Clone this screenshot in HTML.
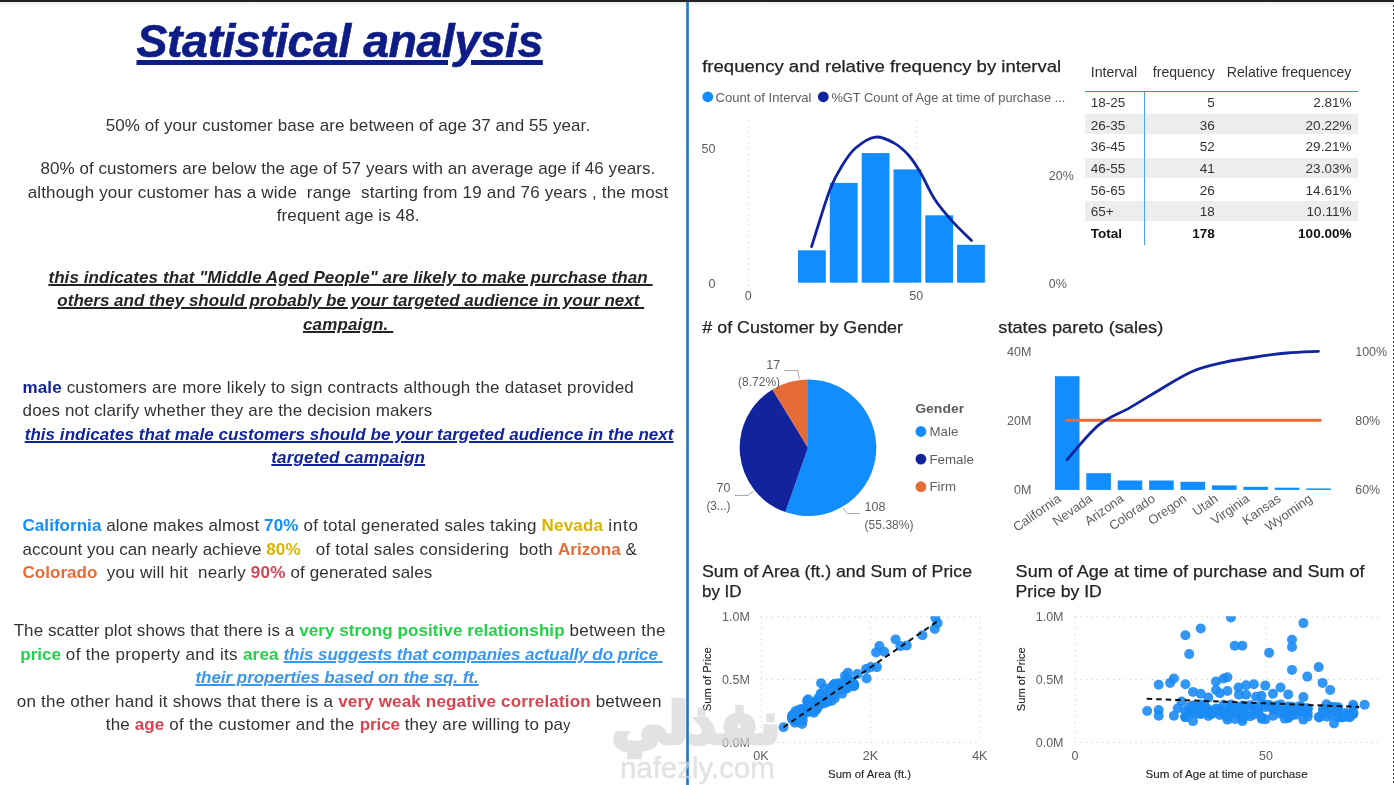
<!DOCTYPE html>
<html lang="en"><head><meta charset="utf-8"><title>Statistical analysis</title>
<style>
html,body{margin:0;padding:0;background:#fff;}
body{width:1394px;height:785px;position:relative;overflow:hidden;font-family:"Liberation Sans",sans-serif;color:#333;}
.topbar{position:absolute;left:0;top:0;width:1394px;height:2px;background:#222;}
.topshade{position:absolute;left:0;top:2px;width:1394px;height:5px;background:linear-gradient(#ededed,#fff);}
.rdots{position:absolute;left:1393px;top:5px;width:1px;height:780px;background:repeating-linear-gradient(#333 0,#333 2px,transparent 2px,transparent 4px);}
.ln{position:absolute;white-space:pre;margin:0;}
.ln span{display:inline;}
.p{color:#333;}
.b{font-weight:bold;}
.bi{font-weight:bold;font-style:italic;}
.u{text-decoration:underline;text-decoration-thickness:1.7px;text-underline-offset:1.3px;}
.ut{text-decoration-thickness:4.6px;text-underline-offset:3.1px;-webkit-text-stroke:0.6px #0e1c86;}
.sm{font-size:14px;}
.dk{color:#252423;}
.navy{color:#12239e;}
.navy2{color:#0e1c86;}
.blue{color:#118dff;}
.lblue{color:#3b96ee;}
.yel{color:#d9b300;}
.org{color:#e66c37;}
.red{color:#d64550;}
.grn{color:#21d24a;}
svg{position:absolute;left:0;top:0;}
svg text{font-family:"Liberation Sans",sans-serif;}
table.ft{position:absolute;left:1085px;top:59px;border-collapse:collapse;border-spacing:0;table-layout:fixed;width:273px;font-size:13.5px;color:#333;}
table.ft td,table.ft th{padding:0;padding-top:0.5px;height:21.15px;line-height:21.15px;font-weight:normal;white-space:nowrap;overflow:visible;}
table.ft th{height:27.6px;line-height:27.6px;padding-top:0;padding-bottom:4.7px;border-bottom:1px solid #2f93ee;color:#333;font-size:14.1px;}
table.ft tr.sp td{height:0.75px;line-height:0.75px;padding-top:0;padding-bottom:0;font-size:0;}
table.ft .c1{text-align:left;padding-left:5.8px;border-right:1px solid #4ba3ee;}
table.ft th.c1{border-right:none;}
table.ft .c2{text-align:right;padding-right:5.3px;}
table.ft .c3{text-align:right;padding-right:6.6px;}
table.ft tr.r1 td{padding-top:0;padding-bottom:2px;line-height:19.15px;height:19.15px;}
table.ft tr.alt td{background:linear-gradient(#ededed 0,#ededed 20.3px,#fff 20.3px);}
table.ft tr.tot td{font-weight:bold;color:#111;padding-top:1px;height:20.65px;}
.wmk{position:absolute;left:0;top:0;width:1394px;height:785px;opacity:0.67;pointer-events:none;}
.wm{position:absolute;white-space:nowrap;color:#d5d5d5;transform-origin:0 0;}
</style></head><body>
<div class="topbar"></div><div class="topshade"></div>
<div class="left">
<div id="t" class="ln bi navy2 u ut" style="left:136.50px;top:11.19px;font-size:46.5px;line-height:60px;"><span id="t_0" style="letter-spacing:-0.492px">Statistical analysis</span></div>
<div id="l1" class="ln p" style="left:105.65px;top:114.41px;font-size:17.0px;line-height:24px;"><span id="l1_0" style="letter-spacing:0.091px">50% of your customer base are between of age 37 and 55 year.</span></div>
<div id="l2" class="ln p" style="left:40.45px;top:157.21px;font-size:17.0px;line-height:24px;"><span id="l2_0" style="letter-spacing:0.055px">80% of customers are below the age of 57 years with an average age if 46 years.</span></div>
<div id="l3" class="ln p" style="left:27.65px;top:180.81px;font-size:17.0px;line-height:24px;"><span id="l3_0" style="letter-spacing:0.174px">although your customer has a wide  range  starting from 19 and 76 years , the most</span></div>
<div id="l4" class="ln p" style="left:276.75px;top:204.21px;font-size:17.0px;line-height:24px;"><span id="l4_0" style="letter-spacing:0.109px">frequent age is 48.</span></div>
<div id="l5" class="ln bi dk u" style="left:48.40px;top:266.21px;font-size:17.0px;line-height:24px;"><span id="l5_0" style="letter-spacing:0.079px">this indicates that "Middle Aged People" are likely to make purchase than </span></div>
<div id="l6" class="ln bi dk u" style="left:57.30px;top:289.21px;font-size:17.0px;line-height:24px;"><span id="l6_0" style="letter-spacing:0.018px">others and they should probably be your targeted audience in your next </span></div>
<div id="l7" class="ln bi dk u" style="left:303.00px;top:312.81px;font-size:17.0px;line-height:24px;"><span id="l7_0" style="letter-spacing:0.149px">campaign. </span></div>
<div id="l8" class="ln p" style="left:22.55px;top:376.21px;font-size:17.0px;line-height:24px;"><span id="l8_0" class="b navy" style="letter-spacing:0.123px">male </span><span id="l8_1" style="letter-spacing:0.226px">customers are more likely to sign contracts although the dataset provided</span></div>
<div id="l9" class="ln p" style="left:22.55px;top:399.21px;font-size:17.0px;line-height:24px;"><span id="l9_0" style="letter-spacing:0.155px">does not clarify whether they are the decision makers</span></div>
<div id="l10" class="ln bi navy u" style="left:24.70px;top:422.81px;font-size:17.0px;line-height:24px;"><span id="l10_0" style="letter-spacing:0.046px">this indicates that male customers should be your targeted audience in the next</span></div>
<div id="l11" class="ln bi navy u" style="left:271.30px;top:446.01px;font-size:17.0px;line-height:24px;"><span id="l11_0" style="letter-spacing:0.156px">targeted campaign</span></div>
<div id="l12" class="ln p" style="left:22.55px;top:513.71px;font-size:17.0px;line-height:24px;"><span id="l12_0" class="b blue" style="letter-spacing:0.043px">California </span><span id="l12_1" style="letter-spacing:0.105px">alone makes almost </span><span id="l12_2" class="b blue" style="letter-spacing:0.188px">70% </span><span id="l12_3" style="letter-spacing:0.199px">of total generated sales taking </span><span id="l12_4" class="b yel" style="letter-spacing:0.214px">Nevada </span><span id="l12_5" style="letter-spacing:0.770px">into</span></div>
<div id="l13" class="ln p" style="left:22.55px;top:537.81px;font-size:17.0px;line-height:24px;"><span id="l13_0" style="letter-spacing:0.023px">account you can nearly achieve </span><span id="l13_1" class="b yel" style="letter-spacing:0.233px">80%   </span><span id="l13_2" style="letter-spacing:0.240px">of total sales considering  both </span><span id="l13_3" class="b org" style="letter-spacing:0.055px">Arizona </span><span id="l13_4" style="letter-spacing:3.056px">&amp;</span></div>
<div id="l14" class="ln p" style="left:22.55px;top:560.91px;font-size:17.0px;line-height:24px;"><span id="l14_0" class="b org" style="letter-spacing:0.024px">Colorado  </span><span id="l14_1" style="letter-spacing:0.243px">you will hit  nearly </span><span id="l14_2" class="b red" style="letter-spacing:0.237px">90% </span><span id="l14_3" style="letter-spacing:0.106px">of generated sales</span></div>
<div id="l15" class="ln p" style="left:13.65px;top:618.81px;font-size:17.0px;line-height:24px;"><span id="l15_0" style="letter-spacing:0.076px">The scatter plot shows that there is a </span><span id="l15_1" class="b grn" style="letter-spacing:0.087px">very strong positive relationship </span><span id="l15_2" style="letter-spacing:0.342px">between the</span></div>
<div id="l16" class="ln p" style="left:20.25px;top:643.01px;font-size:17.0px;line-height:24px;"><span id="l16_0" class="b grn" style="letter-spacing:0.040px">price </span><span id="l16_1" style="letter-spacing:0.331px">of the property and its </span><span id="l16_2" class="b grn" style="letter-spacing:0.169px">area </span><span id="l16_3" class="bi lblue u" style="letter-spacing:-0.077px">this suggests that companies actually do price </span></div>
<div id="l17" class="ln bi lblue u" style="left:195.40px;top:666.21px;font-size:17.0px;line-height:24px;"><span id="l17_0" style="letter-spacing:-0.030px">their properties based on the sq. ft.</span></div>
<div id="l18" class="ln p" style="left:16.75px;top:689.81px;font-size:17.0px;line-height:24px;"><span id="l18_0" style="letter-spacing:0.222px">on the other hand it shows that there is a </span><span id="l18_1" class="b red" style="letter-spacing:0.168px">very weak negative correlation </span><span id="l18_2" style="letter-spacing:0.246px">between</span></div>
<div id="l19" class="ln p" style="left:105.85px;top:713.01px;font-size:17.0px;line-height:24px;"><span id="l19_0" style="letter-spacing:0.135px">the </span><span id="l19_1" class="b red" style="letter-spacing:0.092px">age </span><span id="l19_2" style="letter-spacing:0.298px">of the customer and the </span><span id="l19_3" class="b red" style="letter-spacing:-0.060px">price </span><span id="l19_4" style="letter-spacing:0.160px">they are willing to pa</span><span id="l19_5" class="sm" style="letter-spacing:3.700px">y</span></div>
</div>
<svg width="1394" height="785" viewBox="0 0 1394 785">
<defs><clipPath id="cp"><rect x="750" y="616.3" width="644" height="140"/></clipPath></defs>
<rect x="686.25" y="1.5" width="2.55" height="784" fill="#1f72c4"/>
<g id="hist">
<text x="702.2" y="71.5" font-size="17" fill="#252423" textLength="359.0" lengthAdjust="spacingAndGlyphs" stroke="#252423" stroke-width="0.25">frequency and relative frequency by interval</text>
<circle cx="707.8" cy="96.8" r="5.4" fill="#118dff"/>
<text x="715.5" y="101.6" font-size="13.3" fill="#605e5c" textLength="96.0" lengthAdjust="spacingAndGlyphs">Count of Interval</text>
<circle cx="823.3" cy="96.8" r="5.4" fill="#12239e"/>
<text x="831.4" y="101.6" font-size="13.3" fill="#605e5c" textLength="234.0" lengthAdjust="spacingAndGlyphs">%GT Count of Age at time of purchase ...</text>
<line x1="748.8" y1="120.5" x2="748.8" y2="287" stroke="#c8c6c4" stroke-width="1" stroke-dasharray="1 4.5"/>
<line x1="916.7" y1="120.5" x2="916.7" y2="287" stroke="#c8c6c4" stroke-width="1" stroke-dasharray="1 4.5"/>
<rect x="798.0" y="250.3" width="27.8" height="32.4" fill="#118dff"/>
<rect x="829.8" y="182.9" width="27.8" height="99.8" fill="#118dff"/>
<rect x="861.7" y="153.1" width="27.8" height="129.6" fill="#118dff"/>
<rect x="893.5" y="169.4" width="27.8" height="113.3" fill="#118dff"/>
<rect x="925.3" y="215.3" width="27.8" height="67.4" fill="#118dff"/>
<rect x="957.1" y="244.8" width="27.8" height="37.9" fill="#118dff"/>
<path d="M811.6 246.6 C814.6 237.2 824.6 203.7 829.8 190.0 C835.0 176.3 838.5 171.6 842.8 164.6 C847.1 157.6 850.2 152.6 855.6 148.0 C861.0 143.4 869.0 137.9 875.4 137.1 C881.8 136.2 888.2 139.8 893.8 142.9 C899.4 146.0 904.5 150.6 909.0 155.7 C913.5 160.8 916.8 166.3 921.0 173.5 C925.2 180.7 929.2 190.9 934.5 199.0 C939.8 207.1 946.7 215.0 952.9 221.9 C959.1 228.8 968.4 237.4 971.5 240.5" fill="none" stroke="#12239e" stroke-width="2.8" stroke-linecap="round" stroke-linejoin="round"/>
<text x="715.5" y="153.1" font-size="12.5" fill="#605e5c" text-anchor="end">50</text>
<text x="715.5" y="288.1" font-size="12.5" fill="#605e5c" text-anchor="end">0</text>
<text x="748.3" y="300.1" font-size="12.5" fill="#605e5c" text-anchor="middle">0</text>
<text x="916.2" y="300.1" font-size="12.5" fill="#605e5c" text-anchor="middle">50</text>
<text x="1048.8" y="180.2" font-size="12.5" fill="#605e5c">20%</text>
<text x="1048.8" y="288.1" font-size="12.5" fill="#605e5c">0%</text>
</g>
<g id="pie">
<text x="702.3" y="332.8" font-size="17" fill="#252423" textLength="200.7" lengthAdjust="spacingAndGlyphs" stroke="#252423" stroke-width="0.25"># of Customer by Gender</text>
<path d="M808.00 447.70 L808.00 379.40 A68.30 68.30 0 1 1 785.31 512.12 Z" fill="#118dff"/>
<path d="M808.00 447.70 L785.31 512.12 A68.30 68.30 0 0 1 772.42 389.40 Z" fill="#12239e"/>
<path d="M808.00 447.70 L772.42 389.40 A68.30 68.30 0 0 1 808.00 379.40 Z" fill="#e66c37"/>
<polyline points="784.4,370.6 797.7,370.6 799.3,378.8" fill="none" stroke="#a6a6a6" stroke-width="1"/>
<polyline points="734.7,495.4 748,495.4 752.9,491.5" fill="none" stroke="#a6a6a6" stroke-width="1"/>
<polyline points="843,508 847.3,513.6 859.9,513.6" fill="none" stroke="#a6a6a6" stroke-width="1"/>
<text x="780.1" y="368.9" font-size="12.5" fill="#605e5c" text-anchor="end">17</text>
<text x="780.1" y="385.5" font-size="12.5" fill="#605e5c" text-anchor="end" textLength="42.0" lengthAdjust="spacingAndGlyphs">(8.72%)</text>
<text x="730.4" y="492.4" font-size="12.5" fill="#605e5c" text-anchor="end">70</text>
<text x="730.4" y="509.7" font-size="12.5" fill="#605e5c" text-anchor="end" textLength="24.0" lengthAdjust="spacingAndGlyphs">(3...)</text>
<text x="864.6" y="511.0" font-size="12.5" fill="#605e5c">108</text>
<text x="864.6" y="528.5" font-size="12.5" fill="#605e5c" textLength="49.0" lengthAdjust="spacingAndGlyphs">(55.38%)</text>
<text x="915.2" y="412.6" font-size="13.3" fill="#605e5c" textLength="49.0" lengthAdjust="spacingAndGlyphs" font-weight="bold">Gender</text>
<circle cx="920.9" cy="431.5" r="5.4" fill="#118dff"/>
<text x="929.5" y="436.1" font-size="13.3" fill="#605e5c">Male</text>
<circle cx="920.9" cy="459.1" r="5.4" fill="#12239e"/>
<text x="929.5" y="463.7" font-size="13.3" fill="#605e5c">Female</text>
<circle cx="920.9" cy="486.7" r="5.4" fill="#e66c37"/>
<text x="929.5" y="491.3" font-size="13.3" fill="#605e5c">Firm</text>
</g>
<g id="pareto">
<text x="998.3" y="332.8" font-size="17" fill="#252423" textLength="165.0" lengthAdjust="spacingAndGlyphs" stroke="#252423" stroke-width="0.25">states pareto (sales)</text>
<text x="1031.4" y="356.3" font-size="12.5" fill="#605e5c" text-anchor="end">40M</text>
<text x="1031.4" y="425.2" font-size="12.5" fill="#605e5c" text-anchor="end">20M</text>
<text x="1031.4" y="494.0" font-size="12.5" fill="#605e5c" text-anchor="end">0M</text>
<text x="1355.2" y="356.3" font-size="12.5" fill="#605e5c">100%</text>
<text x="1355.2" y="425.2" font-size="12.5" fill="#605e5c">80%</text>
<text x="1355.2" y="494.0" font-size="12.5" fill="#605e5c">60%</text>
<rect x="1054.9" y="376.2" width="24.6" height="113.7" fill="#118dff"/>
<text x="0" y="0" font-size="13" fill="#605e5c" text-anchor="end" transform="translate(1061.9 500.6) rotate(-35)">California</text>
<rect x="1086.3" y="473.2" width="24.6" height="16.7" fill="#118dff"/>
<text x="0" y="0" font-size="13" fill="#605e5c" text-anchor="end" transform="translate(1093.3 500.6) rotate(-35)">Nevada</text>
<rect x="1117.7" y="480.5" width="24.6" height="9.4" fill="#118dff"/>
<text x="0" y="0" font-size="13" fill="#605e5c" text-anchor="end" transform="translate(1124.7 500.6) rotate(-35)">Arizona</text>
<rect x="1149.1" y="480.5" width="24.6" height="9.4" fill="#118dff"/>
<text x="0" y="0" font-size="13" fill="#605e5c" text-anchor="end" transform="translate(1156.1 500.6) rotate(-35)">Colorado</text>
<rect x="1180.5" y="481.8" width="24.6" height="8.1" fill="#118dff"/>
<text x="0" y="0" font-size="13" fill="#605e5c" text-anchor="end" transform="translate(1187.5 500.6) rotate(-35)">Oregon</text>
<rect x="1212.0" y="485.4" width="24.6" height="4.5" fill="#118dff"/>
<text x="0" y="0" font-size="13" fill="#605e5c" text-anchor="end" transform="translate(1219.0 500.6) rotate(-35)">Utah</text>
<rect x="1243.4" y="486.8" width="24.6" height="3.1" fill="#118dff"/>
<text x="0" y="0" font-size="13" fill="#605e5c" text-anchor="end" transform="translate(1250.4 500.6) rotate(-35)">Virginia</text>
<rect x="1274.8" y="487.7" width="24.6" height="2.2" fill="#118dff"/>
<text x="0" y="0" font-size="13" fill="#605e5c" text-anchor="end" transform="translate(1281.8 500.6) rotate(-35)">Kansas</text>
<rect x="1306.2" y="488.4" width="24.6" height="1.5" fill="#118dff"/>
<text x="0" y="0" font-size="13" fill="#605e5c" text-anchor="end" transform="translate(1313.2 500.6) rotate(-35)">Wyoming</text>
<line x1="1066.2" y1="420.3" x2="1320.1" y2="420.3" stroke="#e66c37" stroke-width="3" stroke-linecap="round"/>
<path d="M1067.2 459.6 C1072.4 453.9 1088.1 433.9 1098.6 425.2 C1109.1 416.5 1119.5 413.7 1130.0 407.6 C1140.5 401.5 1151.0 394.8 1161.4 388.7 C1171.9 382.6 1182.4 375.6 1192.8 371.2 C1203.3 366.8 1213.8 364.7 1224.2 362.3 C1234.7 359.9 1245.2 358.6 1255.7 357.0 C1266.1 355.4 1276.6 353.9 1287.1 353.0 C1297.5 352.1 1313.2 351.6 1318.5 351.3" fill="none" stroke="#12239e" stroke-width="2.8" stroke-linecap="round" stroke-linejoin="round"/>
</g>
<g id="sc1">
<text x="702.0" y="576.7" font-size="17" fill="#252423" textLength="270.0" lengthAdjust="spacingAndGlyphs" stroke="#252423" stroke-width="0.25">Sum of Area (ft.) and Sum of Price</text>
<text x="702.0" y="597.0" font-size="17" fill="#252423" textLength="39.5" lengthAdjust="spacingAndGlyphs" stroke="#252423" stroke-width="0.25">by ID</text>
<line x1="761" y1="616.8" x2="980" y2="616.8" stroke="#c8c6c4" stroke-width="1" stroke-dasharray="1 4.5"/>
<line x1="761" y1="679.6" x2="980" y2="679.6" stroke="#c8c6c4" stroke-width="1" stroke-dasharray="1 4.5"/>
<line x1="761" y1="742.4" x2="980" y2="742.4" stroke="#c8c6c4" stroke-width="1" stroke-dasharray="1 4.5"/>
<line x1="761.5" y1="616.8" x2="761.5" y2="742.4" stroke="#c8c6c4" stroke-width="1" stroke-dasharray="1 4.5"/>
<line x1="870.5" y1="616.8" x2="870.5" y2="742.4" stroke="#c8c6c4" stroke-width="1" stroke-dasharray="1 4.5"/>
<line x1="979.8" y1="616.8" x2="979.8" y2="742.4" stroke="#c8c6c4" stroke-width="1" stroke-dasharray="1 4.5"/>
<text x="749.9" y="620.8" font-size="12.5" fill="#605e5c" text-anchor="end">1.0M</text>
<text x="749.9" y="683.9" font-size="12.5" fill="#605e5c" text-anchor="end">0.5M</text>
<text x="749.9" y="747.3" font-size="12.5" fill="#605e5c" text-anchor="end">0.0M</text>
<text x="761.0" y="760.3" font-size="12.5" fill="#605e5c" text-anchor="middle">0K</text>
<text x="870.5" y="760.3" font-size="12.5" fill="#605e5c" text-anchor="middle">2K</text>
<text x="979.8" y="760.3" font-size="12.5" fill="#605e5c" text-anchor="middle">4K</text>
<text x="869.6" y="778.0" font-size="11.5" fill="#252423" text-anchor="middle" textLength="83.0" lengthAdjust="spacingAndGlyphs" stroke="#252423" stroke-width="0.12">Sum of Area (ft.)</text>
<text x="0" y="0" font-size="11.5" fill="#252423" stroke="#252423" stroke-width="0.12" text-anchor="middle" textLength="64" lengthAdjust="spacingAndGlyphs" transform="translate(711.3 679.3) rotate(-90)">Sum of Price</text>
<g fill="#1b8bf5" fill-opacity="0.9" clip-path="url(#cp)">
<circle cx="809.9" cy="711.4" r="5"/>
<circle cx="797.1" cy="721.3" r="5"/>
<circle cx="820.9" cy="699.9" r="5"/>
<circle cx="820.0" cy="702.4" r="5"/>
<circle cx="792.7" cy="718.1" r="5"/>
<circle cx="796.1" cy="717.9" r="5"/>
<circle cx="814.8" cy="705.7" r="5"/>
<circle cx="801.9" cy="711.6" r="5"/>
<circle cx="829.4" cy="700.0" r="5"/>
<circle cx="812.0" cy="705.0" r="5"/>
<circle cx="853.8" cy="686.3" r="5"/>
<circle cx="807.5" cy="711.9" r="5"/>
<circle cx="799.6" cy="717.4" r="5"/>
<circle cx="840.5" cy="689.9" r="5"/>
<circle cx="798.1" cy="711.0" r="5"/>
<circle cx="810.0" cy="705.2" r="5"/>
<circle cx="822.6" cy="700.9" r="5"/>
<circle cx="802.0" cy="713.9" r="5"/>
<circle cx="829.1" cy="692.2" r="5"/>
<circle cx="825.1" cy="699.4" r="5"/>
<circle cx="815.2" cy="702.4" r="5"/>
<circle cx="834.8" cy="698.1" r="5"/>
<circle cx="801.9" cy="709.1" r="5"/>
<circle cx="842.5" cy="684.2" r="5"/>
<circle cx="832.5" cy="690.4" r="5"/>
<circle cx="802.1" cy="724.0" r="5"/>
<circle cx="814.1" cy="705.4" r="5"/>
<circle cx="817.3" cy="700.9" r="5"/>
<circle cx="791.9" cy="716.7" r="5"/>
<circle cx="820.9" cy="694.9" r="5"/>
<circle cx="842.4" cy="684.0" r="5"/>
<circle cx="827.6" cy="701.9" r="5"/>
<circle cx="820.7" cy="693.6" r="5"/>
<circle cx="849.1" cy="684.0" r="5"/>
<circle cx="817.1" cy="702.5" r="5"/>
<circle cx="831.4" cy="692.6" r="5"/>
<circle cx="831.7" cy="700.8" r="5"/>
<circle cx="806.0" cy="710.4" r="5"/>
<circle cx="811.9" cy="706.3" r="5"/>
<circle cx="816.3" cy="703.0" r="5"/>
<circle cx="800.2" cy="715.6" r="5"/>
<circle cx="836.7" cy="691.1" r="5"/>
<circle cx="797.7" cy="716.2" r="5"/>
<circle cx="845.0" cy="688.6" r="5"/>
<circle cx="793.1" cy="714.5" r="5"/>
<circle cx="844.7" cy="686.4" r="5"/>
<circle cx="840.7" cy="689.6" r="5"/>
<circle cx="812.7" cy="703.8" r="5"/>
<circle cx="813.9" cy="712.8" r="5"/>
<circle cx="795.8" cy="710.9" r="5"/>
<circle cx="800.3" cy="714.8" r="5"/>
<circle cx="819.4" cy="704.6" r="5"/>
<circle cx="824.6" cy="698.2" r="5"/>
<circle cx="814.2" cy="705.5" r="5"/>
<circle cx="807.0" cy="701.1" r="5"/>
<circle cx="829.4" cy="691.1" r="5"/>
<circle cx="818.0" cy="698.3" r="5"/>
<circle cx="792.3" cy="715.8" r="5"/>
<circle cx="845.8" cy="685.6" r="5"/>
<circle cx="834.6" cy="683.7" r="5"/>
<circle cx="811.8" cy="705.3" r="5"/>
<circle cx="828.0" cy="697.1" r="5"/>
<circle cx="795.6" cy="720.1" r="5"/>
<circle cx="799.9" cy="715.8" r="5"/>
<circle cx="809.4" cy="708.5" r="5"/>
<circle cx="798.8" cy="715.5" r="5"/>
<circle cx="796.0" cy="716.7" r="5"/>
<circle cx="843.7" cy="686.2" r="5"/>
<circle cx="827.1" cy="698.4" r="5"/>
<circle cx="810.9" cy="709.8" r="5"/>
<circle cx="813.3" cy="711.3" r="5"/>
<circle cx="854.0" cy="684.0" r="5"/>
<circle cx="816.2" cy="702.2" r="5"/>
<circle cx="796.4" cy="717.2" r="5"/>
<circle cx="809.2" cy="707.9" r="5"/>
<circle cx="802.8" cy="720.2" r="5"/>
<circle cx="794.9" cy="722.7" r="5"/>
<circle cx="797.9" cy="714.6" r="5"/>
<circle cx="823.9" cy="703.5" r="5"/>
<circle cx="850.9" cy="681.6" r="5"/>
<circle cx="842.2" cy="685.5" r="5"/>
<circle cx="809.6" cy="705.4" r="5"/>
<circle cx="800.0" cy="715.4" r="5"/>
<circle cx="834.8" cy="686.6" r="5"/>
<circle cx="809.3" cy="709.7" r="5"/>
<circle cx="854.2" cy="685.6" r="5"/>
<circle cx="843.1" cy="688.4" r="5"/>
<circle cx="831.3" cy="687.0" r="5"/>
<circle cx="801.2" cy="710.2" r="5"/>
<circle cx="792.8" cy="719.0" r="5"/>
<circle cx="792.7" cy="719.0" r="5"/>
<circle cx="832.7" cy="695.9" r="5"/>
<circle cx="845.0" cy="675.9" r="5"/>
<circle cx="852.6" cy="682.6" r="5"/>
<circle cx="848.1" cy="680.8" r="5"/>
<circle cx="803.9" cy="714.2" r="5"/>
<circle cx="802.0" cy="714.9" r="5"/>
<circle cx="847.6" cy="688.2" r="5"/>
<circle cx="838.5" cy="683.3" r="5"/>
<circle cx="838.7" cy="689.6" r="5"/>
<circle cx="793.4" cy="714.5" r="5"/>
<circle cx="833.9" cy="684.8" r="5"/>
<circle cx="834.0" cy="689.6" r="5"/>
<circle cx="837.9" cy="689.8" r="5"/>
<circle cx="810.4" cy="711.0" r="5"/>
<circle cx="808.1" cy="699.3" r="5"/>
<circle cx="815.8" cy="710.2" r="5"/>
<circle cx="798.9" cy="713.3" r="5"/>
<circle cx="799.9" cy="719.7" r="5"/>
<circle cx="842.1" cy="693.6" r="5"/>
<circle cx="800.9" cy="719.2" r="5"/>
<circle cx="824.5" cy="688.5" r="5"/>
<circle cx="809.0" cy="706.6" r="5"/>
<circle cx="792.2" cy="719.3" r="5"/>
<circle cx="848.7" cy="679.4" r="5"/>
<circle cx="845.7" cy="680.3" r="5"/>
<circle cx="817.3" cy="708.2" r="5"/>
<circle cx="799.6" cy="709.6" r="5"/>
<circle cx="803.9" cy="711.3" r="5"/>
<circle cx="825.8" cy="700.3" r="5"/>
<circle cx="803.9" cy="710.3" r="5"/>
<circle cx="846.3" cy="684.8" r="5"/>
<circle cx="807.8" cy="704.4" r="5"/>
<circle cx="846.1" cy="685.3" r="5"/>
<circle cx="816.0" cy="708.0" r="5"/>
<circle cx="783.5" cy="727.3" r="5"/>
<circle cx="821.1" cy="683.3" r="5"/>
<circle cx="847.9" cy="672.8" r="5"/>
<circle cx="857.4" cy="674.1" r="5"/>
<circle cx="866.6" cy="678.5" r="5"/>
<circle cx="866.0" cy="669.0" r="5"/>
<circle cx="870.8" cy="667.1" r="5"/>
<circle cx="876.9" cy="667.1" r="5"/>
<circle cx="876.1" cy="652.4" r="5"/>
<circle cx="879.4" cy="646.1" r="5"/>
<circle cx="884.2" cy="651.8" r="5"/>
<circle cx="895.6" cy="639.4" r="5"/>
<circle cx="900.4" cy="646.1" r="5"/>
<circle cx="906.7" cy="645.5" r="5"/>
<circle cx="922.4" cy="635.2" r="5"/>
<circle cx="934.8" cy="628.9" r="5"/>
<circle cx="937.6" cy="623.1" r="5"/>
<circle cx="935.4" cy="618.0" r="5"/>
</g>
<line x1="783.5" y1="727.3" x2="937.6" y2="621.2" stroke="#111" stroke-width="2" stroke-dasharray="5.5 4"/>
</g>
<g id="sc2">
<text x="1015.6" y="576.7" font-size="17" fill="#252423" textLength="349.0" lengthAdjust="spacingAndGlyphs" stroke="#252423" stroke-width="0.25">Sum of Age at time of purchase and Sum of</text>
<text x="1015.6" y="597.0" font-size="17" fill="#252423" textLength="86.2" lengthAdjust="spacingAndGlyphs" stroke="#252423" stroke-width="0.25">Price by ID</text>
<line x1="1075" y1="616.8" x2="1380.5" y2="616.8" stroke="#c8c6c4" stroke-width="1" stroke-dasharray="1 4.5"/>
<line x1="1075" y1="679.6" x2="1380.5" y2="679.6" stroke="#c8c6c4" stroke-width="1" stroke-dasharray="1 4.5"/>
<line x1="1075" y1="742.4" x2="1380.5" y2="742.4" stroke="#c8c6c4" stroke-width="1" stroke-dasharray="1 4.5"/>
<line x1="1075.2" y1="616.8" x2="1075.2" y2="742.4" stroke="#c8c6c4" stroke-width="1" stroke-dasharray="1 4.5"/>
<line x1="1266.0" y1="616.8" x2="1266.0" y2="742.4" stroke="#c8c6c4" stroke-width="1" stroke-dasharray="1 4.5"/>
<text x="1063.5" y="620.8" font-size="12.5" fill="#605e5c" text-anchor="end">1.0M</text>
<text x="1063.5" y="683.9" font-size="12.5" fill="#605e5c" text-anchor="end">0.5M</text>
<text x="1063.5" y="747.3" font-size="12.5" fill="#605e5c" text-anchor="end">0.0M</text>
<text x="1074.9" y="760.3" font-size="12.5" fill="#605e5c" text-anchor="middle">0</text>
<text x="1265.9" y="760.3" font-size="12.5" fill="#605e5c" text-anchor="middle">50</text>
<text x="1226.6" y="778.0" font-size="11.5" fill="#252423" text-anchor="middle" textLength="162.0" lengthAdjust="spacingAndGlyphs" stroke="#252423" stroke-width="0.12">Sum of Age at time of purchase</text>
<text x="0" y="0" font-size="11.5" fill="#252423" stroke="#252423" stroke-width="0.12" text-anchor="middle" textLength="64" lengthAdjust="spacingAndGlyphs" transform="translate(1024.8 679.3) rotate(-90)">Sum of Price</text>
<g fill="#1b8bf5" fill-opacity="0.9" clip-path="url(#cp)">
<circle cx="1230.9" cy="617.4" r="5"/>
<circle cx="1303.4" cy="623.1" r="5"/>
<circle cx="1200.7" cy="628.5" r="5"/>
<circle cx="1185.4" cy="635.2" r="5"/>
<circle cx="1292.0" cy="639.8" r="5"/>
<circle cx="1292.0" cy="647.0" r="5"/>
<circle cx="1234.7" cy="645.7" r="5"/>
<circle cx="1242.3" cy="645.7" r="5"/>
<circle cx="1189.2" cy="654.1" r="5"/>
<circle cx="1269.1" cy="652.8" r="5"/>
<circle cx="1318.7" cy="667.1" r="5"/>
<circle cx="1292.0" cy="669.9" r="5"/>
<circle cx="1307.3" cy="676.6" r="5"/>
<circle cx="1322.6" cy="682.9" r="5"/>
<circle cx="1330.2" cy="690.0" r="5"/>
<circle cx="1173.9" cy="678.5" r="5"/>
<circle cx="1170.1" cy="682.9" r="5"/>
<circle cx="1158.7" cy="684.8" r="5"/>
<circle cx="1185.4" cy="684.3" r="5"/>
<circle cx="1193.0" cy="691.9" r="5"/>
<circle cx="1200.7" cy="693.8" r="5"/>
<circle cx="1216.0" cy="681.4" r="5"/>
<circle cx="1223.6" cy="678.5" r="5"/>
<circle cx="1227.4" cy="677.2" r="5"/>
<circle cx="1216.0" cy="690.0" r="5"/>
<circle cx="1227.4" cy="691.0" r="5"/>
<circle cx="1238.5" cy="687.5" r="5"/>
<circle cx="1246.1" cy="685.2" r="5"/>
<circle cx="1253.8" cy="684.3" r="5"/>
<circle cx="1265.2" cy="685.6" r="5"/>
<circle cx="1280.5" cy="687.5" r="5"/>
<circle cx="1272.9" cy="693.8" r="5"/>
<circle cx="1288.2" cy="694.4" r="5"/>
<circle cx="1303.4" cy="697.1" r="5"/>
<circle cx="1246.1" cy="694.8" r="5"/>
<circle cx="1261.4" cy="695.7" r="5"/>
<circle cx="1208.3" cy="697.6" r="5"/>
<circle cx="1181.6" cy="701.5" r="5"/>
<circle cx="1219.8" cy="693.3" r="5"/>
<circle cx="1238.9" cy="694.8" r="5"/>
<circle cx="1256.1" cy="696.7" r="5"/>
<circle cx="1147.2" cy="711.0" r="5"/>
<circle cx="1158.7" cy="710.1" r="5"/>
<circle cx="1158.7" cy="715.8" r="5"/>
<circle cx="1173.9" cy="715.8" r="5"/>
<circle cx="1177.8" cy="708.2" r="5"/>
<circle cx="1364.6" cy="704.7" r="5"/>
<circle cx="1353.1" cy="704.7" r="5"/>
<circle cx="1353.1" cy="714.3" r="5"/>
<circle cx="1334.0" cy="723.4" r="5"/>
<circle cx="1326.4" cy="704.3" r="5"/>
<circle cx="1303.4" cy="719.6" r="5"/>
<circle cx="1242.3" cy="721.1" r="5"/>
<circle cx="1193.0" cy="721.1" r="5"/>
<circle cx="1227.4" cy="719.6" r="5"/>
<circle cx="1345.5" cy="715.8" r="5"/>
<circle cx="1337.8" cy="709.1" r="5"/>
<circle cx="1185.4" cy="717.2" r="5"/>
<circle cx="1185.4" cy="717.1" r="5"/>
<circle cx="1185.4" cy="716.0" r="5"/>
<circle cx="1185.4" cy="711.1" r="5"/>
<circle cx="1189.2" cy="707.1" r="5"/>
<circle cx="1189.2" cy="712.0" r="5"/>
<circle cx="1189.2" cy="713.7" r="5"/>
<circle cx="1193.0" cy="705.7" r="5"/>
<circle cx="1193.0" cy="708.9" r="5"/>
<circle cx="1193.0" cy="705.7" r="5"/>
<circle cx="1196.9" cy="713.2" r="5"/>
<circle cx="1196.9" cy="710.2" r="5"/>
<circle cx="1200.7" cy="714.1" r="5"/>
<circle cx="1200.7" cy="713.5" r="5"/>
<circle cx="1200.7" cy="706.7" r="5"/>
<circle cx="1200.7" cy="704.6" r="5"/>
<circle cx="1204.5" cy="705.2" r="5"/>
<circle cx="1204.5" cy="707.2" r="5"/>
<circle cx="1208.3" cy="713.3" r="5"/>
<circle cx="1208.3" cy="715.9" r="5"/>
<circle cx="1208.3" cy="709.2" r="5"/>
<circle cx="1212.1" cy="712.1" r="5"/>
<circle cx="1212.1" cy="713.9" r="5"/>
<circle cx="1212.1" cy="711.8" r="5"/>
<circle cx="1216.0" cy="711.1" r="5"/>
<circle cx="1216.0" cy="708.5" r="5"/>
<circle cx="1219.8" cy="714.9" r="5"/>
<circle cx="1219.8" cy="709.0" r="5"/>
<circle cx="1223.6" cy="712.0" r="5"/>
<circle cx="1223.6" cy="704.8" r="5"/>
<circle cx="1223.6" cy="712.7" r="5"/>
<circle cx="1227.4" cy="710.3" r="5"/>
<circle cx="1227.4" cy="716.9" r="5"/>
<circle cx="1231.2" cy="705.3" r="5"/>
<circle cx="1231.2" cy="704.6" r="5"/>
<circle cx="1231.2" cy="714.5" r="5"/>
<circle cx="1231.2" cy="707.5" r="5"/>
<circle cx="1235.1" cy="711.3" r="5"/>
<circle cx="1235.1" cy="718.9" r="5"/>
<circle cx="1238.9" cy="710.6" r="5"/>
<circle cx="1238.9" cy="712.8" r="5"/>
<circle cx="1238.9" cy="707.3" r="5"/>
<circle cx="1238.9" cy="714.4" r="5"/>
<circle cx="1242.7" cy="705.6" r="5"/>
<circle cx="1242.7" cy="709.3" r="5"/>
<circle cx="1242.7" cy="718.7" r="5"/>
<circle cx="1246.5" cy="706.3" r="5"/>
<circle cx="1246.5" cy="714.9" r="5"/>
<circle cx="1250.3" cy="705.2" r="5"/>
<circle cx="1250.3" cy="716.2" r="5"/>
<circle cx="1254.2" cy="714.5" r="5"/>
<circle cx="1254.2" cy="707.1" r="5"/>
<circle cx="1254.2" cy="711.9" r="5"/>
<circle cx="1258.0" cy="710.6" r="5"/>
<circle cx="1258.0" cy="710.0" r="5"/>
<circle cx="1258.0" cy="710.2" r="5"/>
<circle cx="1261.8" cy="704.3" r="5"/>
<circle cx="1261.8" cy="717.2" r="5"/>
<circle cx="1261.8" cy="718.9" r="5"/>
<circle cx="1265.6" cy="719.2" r="5"/>
<circle cx="1265.6" cy="704.6" r="5"/>
<circle cx="1265.6" cy="707.1" r="5"/>
<circle cx="1269.4" cy="705.0" r="5"/>
<circle cx="1269.4" cy="706.5" r="5"/>
<circle cx="1273.3" cy="708.2" r="5"/>
<circle cx="1273.3" cy="715.8" r="5"/>
<circle cx="1273.3" cy="709.2" r="5"/>
<circle cx="1273.3" cy="708.7" r="5"/>
<circle cx="1277.1" cy="705.4" r="5"/>
<circle cx="1277.1" cy="707.4" r="5"/>
<circle cx="1280.9" cy="704.6" r="5"/>
<circle cx="1280.9" cy="709.8" r="5"/>
<circle cx="1280.9" cy="713.6" r="5"/>
<circle cx="1284.7" cy="718.6" r="5"/>
<circle cx="1284.7" cy="711.5" r="5"/>
<circle cx="1284.7" cy="712.9" r="5"/>
<circle cx="1288.5" cy="707.1" r="5"/>
<circle cx="1288.5" cy="706.6" r="5"/>
<circle cx="1288.5" cy="717.9" r="5"/>
<circle cx="1288.5" cy="716.5" r="5"/>
<circle cx="1292.4" cy="715.1" r="5"/>
<circle cx="1292.4" cy="706.7" r="5"/>
<circle cx="1292.4" cy="713.7" r="5"/>
<circle cx="1296.2" cy="714.6" r="5"/>
<circle cx="1296.2" cy="710.1" r="5"/>
<circle cx="1296.2" cy="711.5" r="5"/>
<circle cx="1300.0" cy="710.6" r="5"/>
<circle cx="1300.0" cy="705.9" r="5"/>
<circle cx="1303.8" cy="712.0" r="5"/>
<circle cx="1303.8" cy="708.1" r="5"/>
<circle cx="1307.7" cy="708.2" r="5"/>
<circle cx="1307.7" cy="716.6" r="5"/>
<circle cx="1307.7" cy="713.2" r="5"/>
<circle cx="1307.7" cy="708.7" r="5"/>
<circle cx="1319.1" cy="716.9" r="5"/>
<circle cx="1319.1" cy="717.4" r="5"/>
<circle cx="1322.9" cy="708.9" r="5"/>
<circle cx="1322.9" cy="712.7" r="5"/>
<circle cx="1326.8" cy="709.5" r="5"/>
<circle cx="1326.8" cy="716.8" r="5"/>
<circle cx="1330.6" cy="714.8" r="5"/>
<circle cx="1330.6" cy="707.0" r="5"/>
<circle cx="1334.4" cy="711.4" r="5"/>
<circle cx="1334.4" cy="706.9" r="5"/>
<circle cx="1334.4" cy="708.3" r="5"/>
<circle cx="1338.2" cy="712.3" r="5"/>
<circle cx="1338.2" cy="717.4" r="5"/>
<circle cx="1338.2" cy="707.3" r="5"/>
<circle cx="1342.0" cy="716.5" r="5"/>
<circle cx="1342.0" cy="717.5" r="5"/>
<circle cx="1345.9" cy="713.0" r="5"/>
<circle cx="1345.9" cy="716.8" r="5"/>
<circle cx="1349.7" cy="716.7" r="5"/>
<circle cx="1349.7" cy="714.3" r="5"/>
<circle cx="1349.7" cy="717.3" r="5"/>
<circle cx="1353.5" cy="713.1" r="5"/>
<circle cx="1353.5" cy="707.1" r="5"/>
</g>
<line x1="1146.7" y1="698.8" x2="1359.3" y2="706.9" stroke="#111" stroke-width="2" stroke-dasharray="5.5 4"/>
</g>
</svg>
<table class="ft"><colgroup><col style="width:59.5px"><col style="width:75.5px"><col style="width:138px"></colgroup>
<thead><tr><th class="c1">Interval</th><th class="c2">frequency</th><th class="c3">Relative frequencey</th></tr></thead><tbody>
<tr class="sp"><td class="c1"></td><td></td><td></td></tr>
<tr class="r1"><td class="c1">18-25</td><td class="c2">5</td><td class="c3">2.81%</td></tr>
<tr class="alt"><td class="c1">26-35</td><td class="c2">36</td><td class="c3">20.22%</td></tr>
<tr><td class="c1">36-45</td><td class="c2">52</td><td class="c3">29.21%</td></tr>
<tr class="alt"><td class="c1">46-55</td><td class="c2">41</td><td class="c3">23.03%</td></tr>
<tr><td class="c1">56-65</td><td class="c2">26</td><td class="c3">14.61%</td></tr>
<tr class="alt"><td class="c1">65+</td><td class="c2">18</td><td class="c3">10.11%</td></tr>
<tr class="tot"><td class="c1">Total</td><td class="c2">178</td><td class="c3">100.00%</td></tr>
</tbody></table>
<div class="rdots"></div>
<div class="wmk">
<div class="wm" id="wmar" dir="rtl" lang="ar" style="left:612px;top:682.4px;font-family:'DejaVu Sans',sans-serif;font-weight:bold;font-size:62px;line-height:90px;-webkit-text-stroke:5px #d5d5d5;transform:scale(0.885,0.92);">نفذلي</div>
<div class="wm" id="wmen" style="left:619.5px;top:751px;font-family:'Liberation Sans',sans-serif;font-size:30px;line-height:34px;-webkit-text-stroke:0.5px #d5d5d5;transform:scaleX(0.98);">nafezly.com</div>
</div>
</body></html>
